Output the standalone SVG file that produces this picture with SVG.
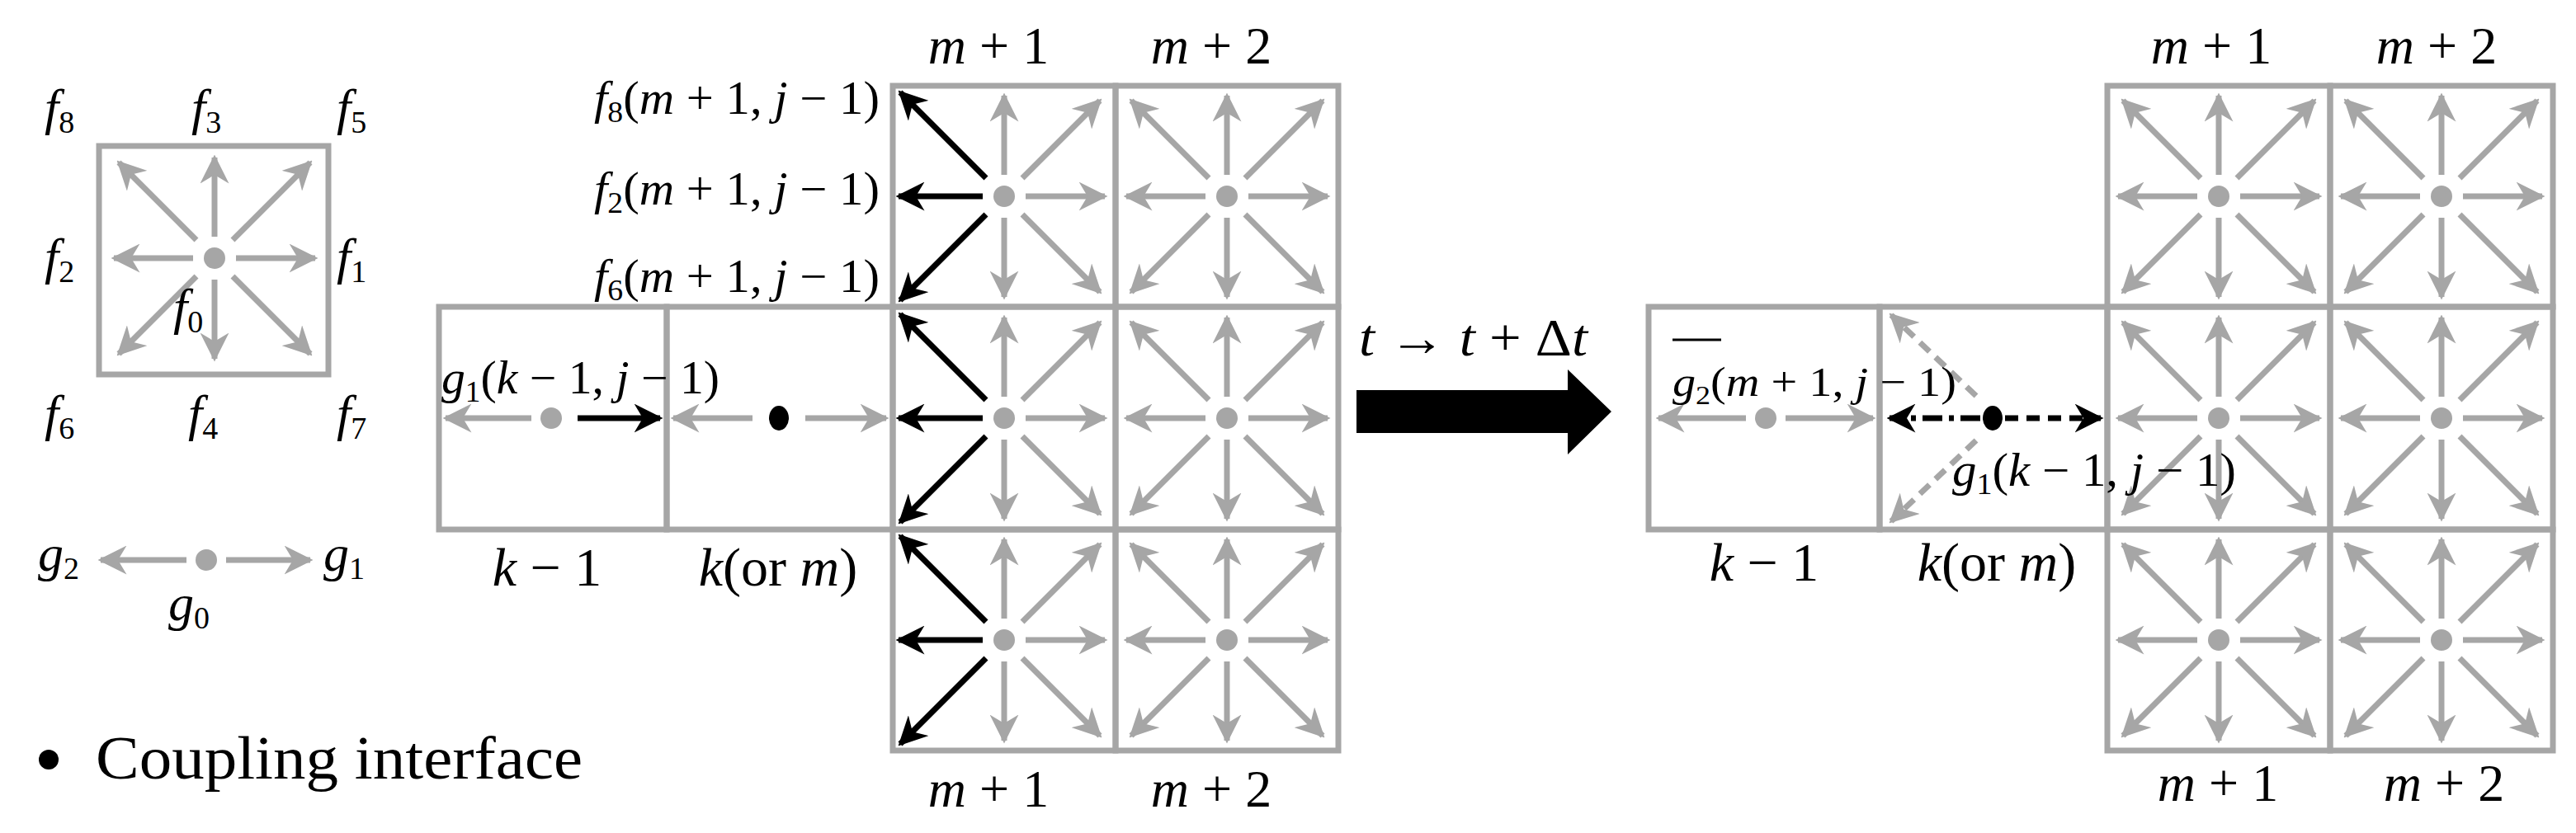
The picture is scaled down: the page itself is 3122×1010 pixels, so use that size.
<svg xmlns="http://www.w3.org/2000/svg" xmlns:xlink="http://www.w3.org/1999/xlink" width="3122" height="1010" viewBox="0 0 3122 1010">
<style>
.g{stroke:#a6a6a6;stroke-width:7;fill:none;marker-end:url(#ag)}
.b{stroke:#000;stroke-width:7;fill:none;marker-end:url(#ab)}
.cell{stroke:#a6a6a6;stroke-width:7;fill:none}
text{font-family:"Liberation Serif","Times New Roman",serif;fill:#000}
.i{font-style:italic}
</style>
<defs>
<marker id="ag" viewBox="0 0 10 10" refX="9" refY="5" markerWidth="5" markerHeight="5" orient="auto" markerUnits="strokeWidth"><path d="M0,0 L10,5 L0,10 L3,5 z" fill="#a6a6a6"/></marker>
<marker id="ab" viewBox="0 0 10 10" refX="9" refY="5" markerWidth="5" markerHeight="5" orient="auto" markerUnits="strokeWidth"><path d="M0,0 L10,5 L0,10 L3,5 z" fill="#000"/></marker>
<g id="star">
<line class="g" x1="0" y1="-26" x2="0" y2="-122"/>
<line class="g" x1="0" y1="26" x2="0" y2="122"/>
<line class="g" x1="26" y1="0" x2="122" y2="0"/>
<line class="g" x1="-26" y1="0" x2="-122" y2="0"/>
<line class="g" x1="22" y1="-22" x2="116" y2="-116"/>
<line class="g" x1="-22" y1="-22" x2="-116" y2="-116"/>
<line class="g" x1="22" y1="22" x2="116" y2="116"/>
<line class="g" x1="-22" y1="22" x2="-116" y2="116"/>
<circle r="13" fill="#a6a6a6"/>
</g>
<g id="half">
<line class="g" x1="0" y1="-26" x2="0" y2="-122"/>
<line class="g" x1="0" y1="26" x2="0" y2="122"/>
<line class="g" x1="26" y1="0" x2="122" y2="0"/>
<line class="g" x1="22" y1="-22" x2="116" y2="-116"/>
<line class="g" x1="22" y1="22" x2="116" y2="116"/>
<line class="b" x1="-26" y1="0" x2="-128" y2="0"/>
<line class="b" x1="-22" y1="-22" x2="-126" y2="-126"/>
<line class="b" x1="-22" y1="22" x2="-126" y2="126"/>
<circle r="13" fill="#a6a6a6"/>
</g>
</defs>

<g id="legend">
<rect class="cell" x="120" y="177" width="278" height="277"/>
<use xlink:href="#star" x="260" y="313"/>
<text x="54" y="151" font-size="62"><tspan class="i">f</tspan><tspan font-size="38" dy="10">8</tspan></text>
<text x="232" y="151" font-size="62"><tspan class="i">f</tspan><tspan font-size="38" dy="10">3</tspan></text>
<text x="408" y="151" font-size="62"><tspan class="i">f</tspan><tspan font-size="38" dy="10">5</tspan></text>
<text x="54" y="332" font-size="62"><tspan class="i">f</tspan><tspan font-size="38" dy="10">2</tspan></text>
<text x="408" y="332" font-size="62"><tspan class="i">f</tspan><tspan font-size="38" dy="10">1</tspan></text>
<text x="210" y="393" font-size="62"><tspan class="i">f</tspan><tspan font-size="38" dy="10">0</tspan></text>
<text x="54" y="522" font-size="62"><tspan class="i">f</tspan><tspan font-size="38" dy="10">6</tspan></text>
<text x="228" y="522" font-size="62"><tspan class="i">f</tspan><tspan font-size="38" dy="10">4</tspan></text>
<text x="408" y="522" font-size="62"><tspan class="i">f</tspan><tspan font-size="38" dy="10">7</tspan></text>
<circle cx="250" cy="679" r="13" fill="#a6a6a6"/>
<line class="g" x1="226" y1="679" x2="122" y2="679"/>
<line class="g" x1="274" y1="679" x2="376" y2="679"/>
<text x="46" y="692" font-size="62"><tspan class="i">g</tspan><tspan font-size="38" dy="10">2</tspan></text>
<text x="392" y="692" font-size="62"><tspan class="i">g</tspan><tspan font-size="38" dy="10">1</tspan></text>
<text x="204" y="752" font-size="62"><tspan class="i">g</tspan><tspan font-size="38" dy="10">0</tspan></text>
<circle cx="59" cy="921" r="12" fill="#000"/>
<text x="116" y="944" font-size="74" textLength="590" lengthAdjust="spacingAndGlyphs">Coupling interface</text>
</g>

<g id="left-grid">
<rect class="cell" x="532" y="372" width="276" height="270"/>
<rect class="cell" x="808" y="372" width="274" height="270"/>
<rect class="cell" x="1082" y="104" width="270" height="268"/>
<rect class="cell" x="1352" y="104" width="270" height="268"/>
<rect class="cell" x="1082" y="372" width="270" height="270"/>
<rect class="cell" x="1352" y="372" width="270" height="270"/>
<rect class="cell" x="1082" y="642" width="270" height="268"/>
<rect class="cell" x="1352" y="642" width="270" height="268"/>
<use xlink:href="#half" x="1217" y="238"/>
<use xlink:href="#half" x="1217" y="507"/>
<use xlink:href="#half" x="1217" y="776"/>
<use xlink:href="#star" x="1487" y="238"/>
<use xlink:href="#star" x="1487" y="507"/>
<use xlink:href="#star" x="1487" y="776"/>
<circle cx="668" cy="507" r="13" fill="#a6a6a6"/>
<line class="g" x1="644" y1="507" x2="540" y2="507"/>
<line class="b" x1="700" y1="507" x2="800" y2="507"/>
<ellipse cx="944" cy="507" rx="12" ry="15" fill="#000"/>
<line class="g" x1="912" y1="507" x2="816" y2="507"/>
<line class="g" x1="976" y1="507" x2="1074" y2="507"/>
<text x="535" y="477" font-size="56" textLength="337" lengthAdjust="spacingAndGlyphs"><tspan class="i">g</tspan><tspan font-size="36" dy="10">1</tspan><tspan dy="-10">(</tspan><tspan class="i">k</tspan> − 1, <tspan class="i">j</tspan> − 1)</text>
<text x="720" y="138" font-size="56" textLength="346" lengthAdjust="spacingAndGlyphs"><tspan class="i">f</tspan><tspan font-size="36" dy="10">8</tspan><tspan dy="-10">(</tspan><tspan class="i">m</tspan> + 1, <tspan class="i">j</tspan> − 1)</text>
<text x="720" y="248" font-size="56" textLength="346" lengthAdjust="spacingAndGlyphs"><tspan class="i">f</tspan><tspan font-size="36" dy="10">2</tspan><tspan dy="-10">(</tspan><tspan class="i">m</tspan> + 1, <tspan class="i">j</tspan> − 1)</text>
<text x="720" y="354" font-size="56" textLength="346" lengthAdjust="spacingAndGlyphs"><tspan class="i">f</tspan><tspan font-size="36" dy="10">6</tspan><tspan dy="-10">(</tspan><tspan class="i">m</tspan> + 1, <tspan class="i">j</tspan> − 1)</text>
<text x="1198" y="77" font-size="64" text-anchor="middle"><tspan class="i">m</tspan> + 1</text>
<text x="1468" y="77" font-size="64" text-anchor="middle"><tspan class="i">m</tspan> + 2</text>
<text x="1198" y="978" font-size="64" text-anchor="middle"><tspan class="i">m</tspan> + 1</text>
<text x="1468" y="978" font-size="64" text-anchor="middle"><tspan class="i">m</tspan> + 2</text>
<text x="663" y="710" font-size="66" text-anchor="middle"><tspan class="i">k</tspan> − 1</text>
<text x="943" y="710" font-size="66" text-anchor="middle"><tspan class="i">k</tspan>(or <tspan class="i">m</tspan>)</text>
</g>

<g id="time-step">
<path d="M1644,473 L1900,473 L1900,448 L1953,499 L1900,551 L1900,525 L1644,525 z" fill="#000"/>
<text x="1647" y="431" font-size="64" textLength="277" lengthAdjust="spacingAndGlyphs"><tspan class="i">t</tspan> → <tspan class="i">t</tspan> + Δ<tspan class="i">t</tspan></text>
</g>

<g id="right-grid">
<rect class="cell" x="1998" y="372" width="280" height="270"/>
<rect class="cell" x="2278" y="372" width="276" height="270"/>
<rect class="cell" x="2554" y="104" width="270" height="268"/>
<rect class="cell" x="2824" y="104" width="270" height="268"/>
<rect class="cell" x="2554" y="372" width="270" height="270"/>
<rect class="cell" x="2824" y="372" width="270" height="270"/>
<rect class="cell" x="2554" y="642" width="270" height="268"/>
<rect class="cell" x="2824" y="642" width="270" height="268"/>
<use xlink:href="#star" x="2689" y="238"/>
<use xlink:href="#star" x="2689" y="507"/>
<use xlink:href="#star" x="2689" y="776"/>
<use xlink:href="#star" x="2959" y="238"/>
<use xlink:href="#star" x="2959" y="507"/>
<use xlink:href="#star" x="2959" y="776"/>
<circle cx="2140" cy="507" r="13" fill="#a6a6a6"/>
<line class="g" x1="2116" y1="507" x2="2010" y2="507"/>
<line class="g" x1="2164" y1="507" x2="2270" y2="507"/>
<line class="g" x1="2395" y1="480" x2="2292" y2="382" stroke-dasharray="16,10"/>
<line class="g" x1="2395" y1="534" x2="2292" y2="632" stroke-dasharray="16,10"/>
<line class="b" x1="2400" y1="507" x2="2290" y2="507" stroke-dasharray="24,8,6,8"/>
<line class="b" x1="2430" y1="507" x2="2546" y2="507" stroke-dasharray="16,10"/>
<ellipse cx="2415" cy="507" rx="12" ry="15" fill="#000"/>
<line x1="2027" y1="412" x2="2086" y2="412" stroke="#000" stroke-width="3"/>
<text x="2027" y="480" font-size="50" textLength="344" lengthAdjust="spacingAndGlyphs"><tspan class="i">g</tspan><tspan font-size="32" dy="10">2</tspan><tspan dy="-10">(</tspan><tspan class="i">m</tspan> + 1, <tspan class="i">j</tspan> − 1)</text>
<text x="2366" y="589" font-size="56" textLength="344" lengthAdjust="spacingAndGlyphs"><tspan class="i">g</tspan><tspan font-size="36" dy="10">1</tspan><tspan dy="-10">(</tspan><tspan class="i">k</tspan> − 1, <tspan class="i">j</tspan> − 1)</text>
<text x="2680" y="77" font-size="64" text-anchor="middle"><tspan class="i">m</tspan> + 1</text>
<text x="2953" y="77" font-size="64" text-anchor="middle"><tspan class="i">m</tspan> + 2</text>
<text x="2688" y="971" font-size="64" text-anchor="middle"><tspan class="i">m</tspan> + 1</text>
<text x="2962" y="971" font-size="64" text-anchor="middle"><tspan class="i">m</tspan> + 2</text>
<text x="2138" y="704" font-size="66" text-anchor="middle"><tspan class="i">k</tspan> − 1</text>
<text x="2420" y="704" font-size="66" text-anchor="middle"><tspan class="i">k</tspan>(or <tspan class="i">m</tspan>)</text>
</g>
</svg>
